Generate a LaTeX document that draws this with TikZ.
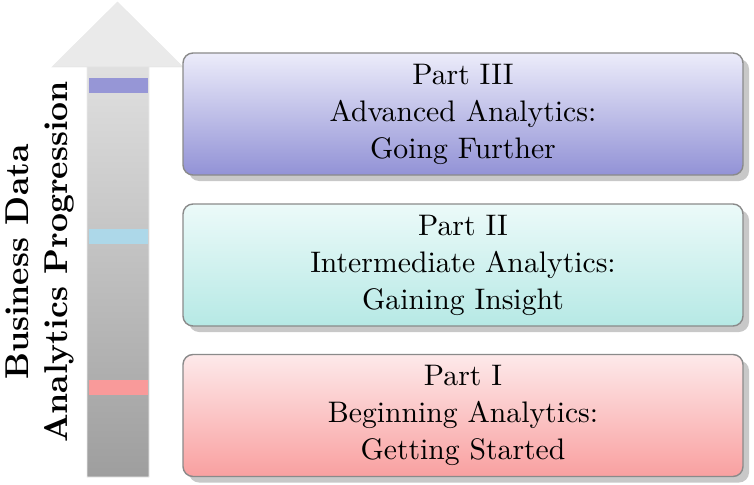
\documentclass[tikz,border=0pt]{standalone}
\usetikzlibrary{shadows,shadings}
\definecolor{pIIItop}{HTML}{ECECFA}
\definecolor{pIIIbot}{HTML}{9292D6}
\definecolor{pIItop}{HTML}{ECFAF9}
\definecolor{pIIbot}{HTML}{B6E9E5}
\definecolor{pItop}{HTML}{FDE9EA}
\definecolor{pIbot}{HTML}{F9A0A0}
\definecolor{bordergray}{HTML}{8A8A8A}
\definecolor{shadowgray}{HTML}{C8C8C8}
\definecolor{arrowtop}{HTML}{EAEAEA}
\definecolor{arrowbot}{HTML}{9E9E9E}
\definecolor{barIII}{HTML}{9696D6}
\definecolor{barII}{HTML}{ADD8E9}
\definecolor{barI}{HTML}{F99A9A}
\tikzset{
  partbox/.style={draw=bordergray, line width=1.4pt, rounded corners=10pt,
    minimum width=560pt, minimum height=122pt, inner sep=0pt,
    drop shadow={shadow xshift=6pt, shadow yshift=-6pt, fill=shadowgray, opacity=1}},
  levelbar/.style={draw=none, minimum width=59pt, minimum height=15pt, inner sep=0pt},
}
\newcommand{\boxtext}[1]{\scalebox{2.97}{\def\arraystretch{1.04}\begin{tabular}{@{}c@{}}#1\end{tabular}}}
\begin{document}
\begin{tikzpicture}[x=1pt,y=-1pt]
\useasboundingbox (0,0) rectangle (754,484);
% progression arrow
\shade[top color=arrowtop, bottom color=arrowbot, draw=white!92!black, line width=0.6pt]
  (87,477) -- (87,67) -- (52,67) -- (117.5,2) -- (183,67) -- (149,67) -- (149,477) -- cycle;
\shade[top color=arrowtop, bottom color=arrowtop]
  (52.5,66.6) -- (117.5,2.5) -- (182.5,66.6) -- cycle;
% level bars
\node[levelbar, fill=barIII] (b3) at (118,85.5) {};
\node[levelbar, fill=barII] (b2) at (118,236) {};
\node[levelbar, fill=barI] (b1) at (118,387) {};
% side label
\node[rotate=90, anchor=center, align=center, scale=3.3, font=\bfseries] (lbl) at (40,262)
  {Business Data\\Analytics Progression};
% part boxes
\node[partbox, top color=pIIItop, bottom color=pIIIbot] (p3) at (463,114)
  {\boxtext{Part III\\Advanced Analytics:\\Going Further}};
\node[partbox, top color=pIItop, bottom color=pIIbot] (p2) at (463,265)
  {\boxtext{Part II\\Intermediate Analytics:\\Gaining Insight}};
\node[partbox, top color=pItop, bottom color=pIbot] (p1) at (463,415.5)
  {\boxtext{Part I\\Beginning Analytics:\\Getting Started}};
\end{tikzpicture}
\end{document}
